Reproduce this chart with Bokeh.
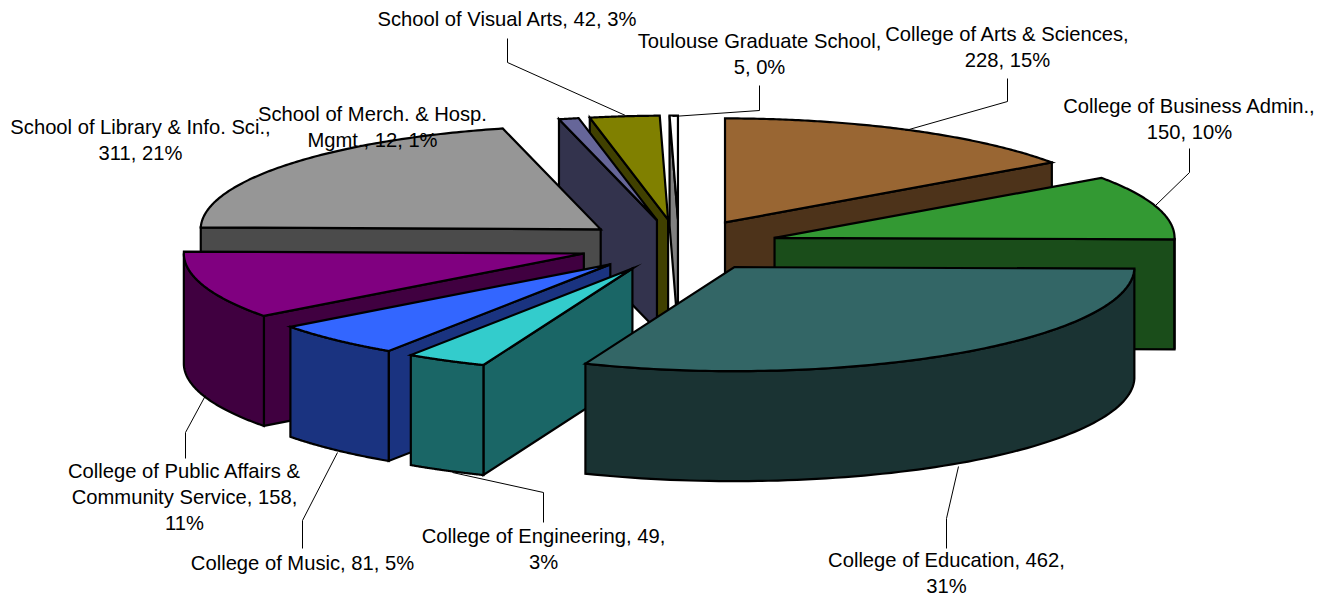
import numpy as np
from bokeh.core.properties import value
from bokeh.embed import file_html
from bokeh.models import Range1d
from bokeh.plotting import figure
from bokeh.resources import INLINE

# ---- data
categories = ["College of Arts & Sciences", "College of Business Admin.", "College of Education",
              "College of Engineering", "College of Music", "College of Public Affairs & Community Service",
              "School of Library & Info. Sci.", "School of Merch. & Hosp. Mgmt.",
              "School of Visual Arts", "Toulouse Graduate School"]
values = [228, 150, 462, 49, 81, 158, 311, 12, 42, 5]
top_colors = ["#996633", "#339933", "#336666", "#33CCCC", "#3366FF", "#800080", "#969696", "#666699", "#808000", "#FFFFFF"]
side_colors = ["#4D331A", "#1A4D1A", "#1A3333", "#1A6666", "#1A3380", "#400040", "#4B4B4B", "#33334D", "#404000", "#808080"]
paint_order = [9, 8, 7, 0, 6, 1, 5, 4, 3, 2]
label_lines = [
    ["College of Arts & Sciences,", "228, 15%"],
    ["College of Business Admin.,", "150, 10%"],
    ["College of Education, 462,", "31%"],
    ["College of Engineering, 49,", "3%"],
    ["College of Music, 81, 5%"],
    ["College of Public Affairs &", "Community Service, 158,", "11%"],
    ["School of Library & Info. Sci.,", "311, 21%"],
    ["School of Merch. & Hosp.", "Mgmt., 12, 1%"],
    ["School of Visual Arts, 42, 3%"],
    ["Toulouse Graduate School,", "5, 0%"],
]

# ---- layout of the drawing (reference pixel coordinates)
W, H = 1325, 596
CX, CY, RX, RY, DEPTH, EXPLODE = 678.5, 245.0, 400.0, 104.0, 110.0, 0.25
label_x = [1007, 1189, 946, 543, 302, 184, 140, 372, 507, 759]
label_y = [33, 105, 559, 535, 562, 470, 126, 113, 18, 40]
LINE_STEP = 26
leader_x = [[1007, 1007, 905], [1189, 1189, 1155], [946, 946, 958], [543, 543, 452],
            [302, 302, 337], [185, 185, 205], [], [], [507, 507, 625], [759, 759, 672]]
leader_y = [[78, 101, 130], [148, 172, 205], [548, 518, 466], [522, 492, 472],
            [548, 520, 452], [458, 432, 395], [], [], [38, 62, 115], [85, 110, 116]]

p = figure(width=W, height=H, x_range=Range1d(0, W), y_range=Range1d(H, 0),
           output_backend="svg", toolbar_location=None, min_border=0,
           outline_line_color=None, background_fill_color="white", border_fill_color="white")
p.axis.visible = False
p.grid.visible = False

total = sum(values)
edges = np.concatenate([[0.0], np.cumsum(values)]) / total * 2 * np.pi


def rim(cx, cy, a):
    return cx + RX * np.sin(a), cy - RY * np.cos(a)


def face(xs, ys, color):
    p.patch(xs, ys, fill_color=color, line_color="black", line_width=2.2, line_join="miter")


for i in paint_order:
    a0, a1 = edges[i], edges[i + 1]
    mid = (a0 + a1) / 2
    cx, cy = rim(CX, CY, mid)
    cx = CX + EXPLODE * (cx - CX)
    cy = CY + EXPLODE * (cy - CY)
    # radial walls facing the viewer
    if np.sin(a1) > 1e-9:
        x1, y1 = rim(cx, cy, a1)
        face([cx, x1, x1, cx], [cy, y1, y1 + DEPTH, cy + DEPTH], side_colors[i])
    if np.sin(a0) < -1e-9:
        x0, y0 = rim(cx, cy, a0)
        face([cx, x0, x0, cx], [cy, y0, y0 + DEPTH, cy + DEPTH], side_colors[i])
    # outer wall, front half only
    lo, hi = max(a0, np.pi / 2), min(a1, 3 * np.pi / 2)
    if hi > lo:
        t = np.linspace(lo, hi, 80)
        xr, yr = rim(cx, cy, t)
        face(np.concatenate([xr, xr[::-1]]), np.concatenate([yr, yr[::-1] + DEPTH]), side_colors[i])
    # top face
    t = np.linspace(a0, a1, 120)
    xr, yr = rim(cx, cy, t)
    face(np.concatenate([[cx], xr]), np.concatenate([[cy], yr]), top_colors[i])

for xs, ys in zip(leader_x, leader_y):
    if xs:
        p.line(xs, ys, line_color="black", line_width=1)

for lines, x, y in zip(label_lines, label_x, label_y):
    for k, s in enumerate(lines):
        p.text([x], [y + k * LINE_STEP], text=[s], text_align="center", text_baseline="middle",
               text_font=value("Liberation Sans"), text_font_size="20.2px", text_color="black")

open("out.html", "w").write(file_html(p, INLINE))
